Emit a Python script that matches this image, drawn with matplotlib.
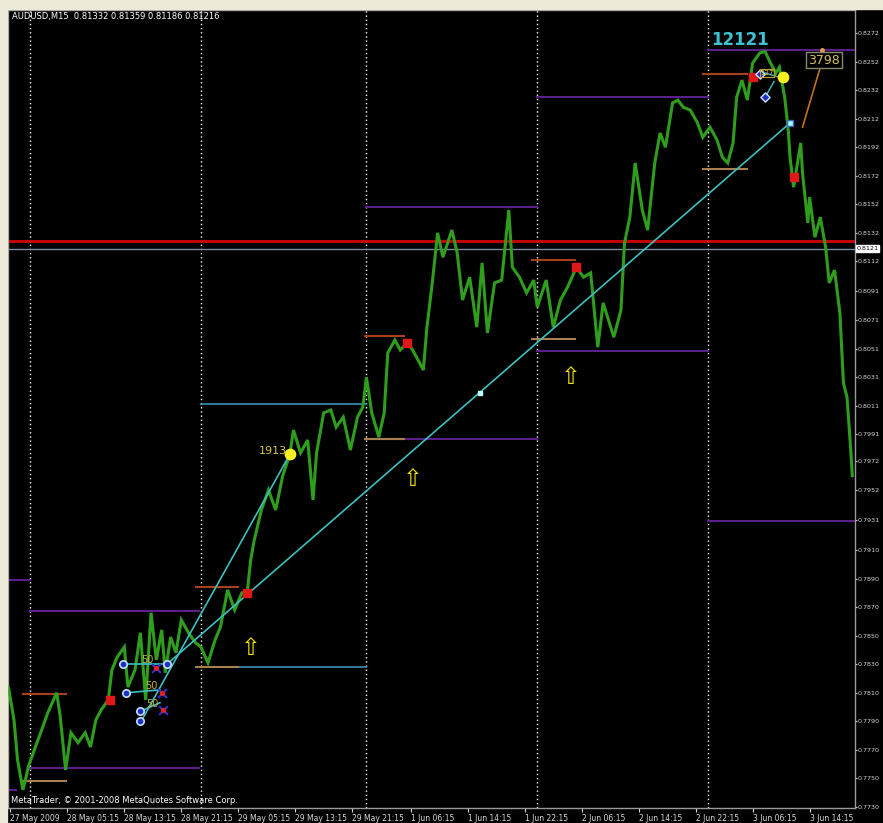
import matplotlib
matplotlib.use("Agg")
import matplotlib.pyplot as plt
from matplotlib.patches import Rectangle

# AUDUSD M15, x = bar number counted from 28 May 2009 00:00
bars = [-12, -9, -7, -4, -2, -1, 3, 6, 10, 15,
        17, 20, 23, 27, 31, 34, 37, 40, 44, 46,
        49, 53, 55, 59, 62, 65, 68, 71, 74, 76,
        79, 82, 85, 89, 93, 96, 100, 104, 107, 111,
        115, 119, 122, 124, 126, 130, 134, 138, 142, 146,
        148, 152, 156, 159, 161, 165, 169, 172, 176, 180,
        184, 187, 189, 192, 196, 199, 201, 205, 208, 212,
        215, 221, 223, 226, 229, 232, 237, 240, 243, 247,
        251, 254, 257, 261, 265, 269, 271, 275, 279, 283,
        285, 290, 294, 298, 302, 307, 311, 315, 317, 319,
        322, 328, 332, 334, 337, 340, 344, 347, 351, 354,
        357, 361, 364, 367, 371, 375, 378, 382, 386, 389,
        392, 395, 397, 400, 403, 406, 410, 413, 416, 419,
        421, 424, 426, 427, 429, 433, 434, 437, 438, 441,
        444, 447, 449, 452, 455, 457, 459, 461, 462]
prices = [0.7813, 0.7791, 0.7763, 0.7742, 0.7752, 0.7758, 0.7772, 0.7782, 0.7796, 0.7810,
          0.7793, 0.7756, 0.7782, 0.7775, 0.7782, 0.7772, 0.7791, 0.7798, 0.7805, 0.7826,
          0.7835, 0.7842, 0.7814, 0.7826, 0.7852, 0.7805, 0.7866, 0.7833, 0.7854, 0.7824,
          0.7849, 0.7838, 0.7861, 0.7852, 0.7845, 0.7842, 0.7831, 0.7847, 0.7856, 0.7882,
          0.7868, 0.7880, 0.7880, 0.7903, 0.7917, 0.7938, 0.7952, 0.7938, 0.7962, 0.7977,
          0.7994, 0.7978, 0.7987, 0.7945, 0.7978, 0.8006, 0.8008, 0.7996, 0.8003, 0.7980,
          0.8003, 0.8010, 0.8031, 0.8006, 0.7989, 0.8006, 0.8048, 0.8057, 0.8050, 0.8055,
          0.8050, 0.8036, 0.8066, 0.8097, 0.8132, 0.8115, 0.8134, 0.8118, 0.8085, 0.8101,
          0.8066, 0.8111, 0.8062, 0.8097, 0.8099, 0.8148, 0.8108, 0.8101, 0.8090, 0.8099,
          0.8080, 0.8099, 0.8066, 0.8085, 0.8094, 0.8108, 0.8101, 0.8104, 0.8078, 0.8052,
          0.8083, 0.8059, 0.8078, 0.8125, 0.8143, 0.8181, 0.8148, 0.8134, 0.8181, 0.8202,
          0.8192, 0.8223, 0.8225, 0.8220, 0.8218, 0.8209, 0.8199, 0.8206, 0.8197, 0.8185,
          0.8181, 0.8195, 0.8227, 0.8239, 0.8225, 0.8251, 0.8258, 0.8259, 0.8251, 0.8244,
          0.8248, 0.8227, 0.8204, 0.8185, 0.8164, 0.8195, 0.8174, 0.8139, 0.8157, 0.8129,
          0.8143, 0.8122, 0.8097, 0.8106, 0.8076, 0.8027, 0.8017, 0.7982, 0.7962]

day_starts = [0, 96, 189, 285, 381]

# (price, first bar, last bar)
range_levels = [(0.7889, -13, 0), (0.7742, -13, -8),
                (0.7867, 0, 95), (0.7757, 0, 95),
                (0.8150, 189, 285), (0.7988, 189, 285),
                (0.8227, 285, 381), (0.8049, 285, 381),
                (0.8260, 381, 466), (0.7930, 381, 466)]
blue_levels = [(0.8012, 96, 189), (0.7828, 117, 189)]
prev_highs = [(0.7809, -4, 20), (0.7884, 93, 117), (0.8060, 188, 210),
              (0.8113, 282, 306), (0.8243, 378, 403)]
prev_lows = [(0.7748, -4, 20), (0.7828, 93, 117), (0.7988, 188, 210),
             (0.8058, 282, 306), (0.8177, 378, 403)]

red_level = 0.8126
bid_level = 0.8121

trend_long = ([76, 427], [0.7829, 0.8209])
trend_mid = (253, 0.8020)
trend_steep = ([62, 146], [0.7789, 0.7977])

red_marks_x = [45, 122, 212, 307, 406, 429]
red_marks_y = [0.7805, 0.7880, 0.8055, 0.8108, 0.8241, 0.8171]
up_arrows_x = [124, 215, 304]
up_arrows_y = [0.7841, 0.7960, 0.8031]
yellow_dots_x = [146, 423]
yellow_dots_y = [0.7977, 0.8241]

fib_rows = [([52, 77], [0.7830, 0.7830]), ([54, 73], [0.7810, 0.7812]),
            ([62, 73], [0.7797, 0.7803])]
fib_circles_x = [52, 77, 54, 62, 62]
fib_circles_y = [0.7830, 0.7830, 0.7810, 0.7797, 0.7790]
fib_text_x = [66, 68, 69]
fib_text_y = [0.7833, 0.7815, 0.7802]
fib_cross_x = [71, 74, 75]
fib_cross_y = [0.7827, 0.7810, 0.7798]

top_diamonds_x = [410, 413]
top_diamonds_y = [0.8243, 0.8227]

time_ticks = [-11, 21, 53, 85, 117, 149, 181, 214, 246, 278, 310, 342, 374, 406, 438]
time_labels = ["27 May 2009", "28 May 05:15", "28 May 13:15", "28 May 21:15",
               "29 May 05:15", "29 May 13:15", "29 May 21:15", "1 Jun 06:15",
               "1 Jun 14:15", "1 Jun 22:15", "2 Jun 06:15", "2 Jun 14:15",
               "2 Jun 22:15", "3 Jun 06:15", "3 Jun 14:15"]
price_ticks = [0.7730, 0.7750, 0.7770, 0.7790, 0.7810, 0.7830, 0.7850, 0.7870,
               0.7890, 0.7910, 0.7931, 0.7952, 0.7972, 0.7991, 0.8011, 0.8031,
               0.8051, 0.8071, 0.8091, 0.8112, 0.8132, 0.8152, 0.8172, 0.8192,
               0.8212, 0.8232, 0.8252, 0.8272]

W, H = 883, 823
fig = plt.figure(figsize=(W / 100, H / 100), dpi=100, facecolor="black")
ax = fig.add_axes([8 / W, 15 / H, 847 / W, 798 / H])
ax.set_facecolor("black")
ax.set_xlim(-12.36, 463.5)
ax.set_ylim(0.77293, 0.82881)

# window frame strips
fig.patches.append(Rectangle((0, 1 - 9 / H), 1, 9 / H, transform=fig.transFigure,
                             color="#ece9d8", zorder=0))
fig.patches.append(Rectangle((0, 0), 7 / W, 1, transform=fig.transFigure,
                             color="#ece9d8", zorder=0))

for d in day_starts:
    ax.axvline(d, color="white", lw=1, ls=(0, (1, 2)), zorder=1)

purple = "#5b1f8c"
for p, a, b in range_levels:
    ax.plot([a, b], [p, p], color=purple, lw=1.5, zorder=2)
for p, a, b in blue_levels:
    ax.plot([a, b], [p, p], color="#3a8fb8", lw=1.2, zorder=2)
for p, a, b in prev_highs:
    ax.plot([a, b], [p, p], color="#a8401c", lw=1.5, zorder=2)
for p, a, b in prev_lows:
    ax.plot([a, b], [p, p], color="#a88050", lw=1.5, zorder=2)

ax.axhline(red_level, color="#d00000", lw=2, zorder=2)
ax.axhline(bid_level, color="#7a8ca0", lw=1, zorder=2)

ax.plot(bars, prices, color="#2e9e1c", lw=2.2, zorder=3, solid_joinstyle="miter")

cyan = "#3cc0c0"
ax.plot(*trend_long, color=cyan, lw=1.2, zorder=4)
ax.plot(*trend_steep, color=cyan, lw=1.2, zorder=4)
ax.plot(*trend_mid, marker="s", ms=3, color="#c0ffff", zorder=5)
ax.plot(trend_long[0][1], trend_long[1][1], marker="s", ms=5, mfc="#a0ffff",
        mec="#4060c0", zorder=5)

for xs, ys in fib_rows:
    ax.plot(xs, ys, color=cyan, lw=1.2, zorder=4)
ax.scatter(fib_circles_x, fib_circles_y, s=28, c="#2030c0", edgecolors="#c0e0ff",
           linewidths=1.2, zorder=5)
for x, y in zip(fib_text_x, fib_text_y):
    ax.text(x, y, "50", color="#c8b040", fontsize=7, ha="center", va="center", zorder=5)
ax.scatter(fib_cross_x, fib_cross_y, s=40, marker="x", c="#3030e0", linewidths=1.5, zorder=5)
ax.scatter(fib_cross_x, fib_cross_y, s=8, c="#e02020", zorder=6)

ax.scatter(red_marks_x, red_marks_y, s=30, marker="s", c="#e01818", zorder=6)
for x, y in zip(up_arrows_x, up_arrows_y):
    ax.text(x, y, "\u21e7", color="#f0e000", fontsize=17, ha="center", va="center", zorder=6)
ax.scatter(yellow_dots_x, yellow_dots_y, s=55, c="#f8f020", zorder=6)
ax.text(yellow_dots_x[0] - 1.5, yellow_dots_y[0] + 0.0002, "1913", color="#d8c848",
        fontsize=8, ha="right", va="center", zorder=6)

ax.plot(top_diamonds_x + [421], top_diamonds_y[:1] + [0.8244, 0.8241], color=cyan, lw=1, zorder=5)
ax.plot([413, 418], [0.8227, 0.8238], color=cyan, lw=1, zorder=5)
ax.scatter(top_diamonds_x, top_diamonds_y, s=22, marker="D", c="#2030c0",
           edgecolors="#d0e0ff", linewidths=1, zorder=6)
ax.text(414, 0.8244, "127", color="#d8c848", fontsize=5, ha="center", va="center",
        bbox=dict(boxstyle="square,pad=0.1", fc="none", ec="#c0a020", lw=0.8), zorder=6)

ax.text(399, 0.8267, "12121", color="#3cc4d4", fontsize=12, fontweight="bold",
        ha="center", va="center", zorder=6)
ax.plot([434, 444], [0.8206, 0.8248], color="#c07020", lw=1.2, zorder=5)
ax.plot(445, 0.8260, marker="o", ms=2.5, color="#e0a040", zorder=6)
ax.text(446, 0.8253, "3798", color="#d8c060", fontsize=9, ha="center", va="center",
        bbox=dict(boxstyle="square,pad=0.15", fc="black", ec="#8a8a70", lw=1), zorder=6)

ax.text(0.005, 0.992, "AUDUSD,M15  0.81332 0.81359 0.81186 0.81216", transform=ax.transAxes,
        color="white", fontsize=6, ha="left", va="center")
ax.text(0.003, 0.004, "MetaTrader, \u00a9 2001-2008 MetaQuotes Software Corp.",
        transform=ax.transAxes, color="white", fontsize=6, ha="left", va="bottom")

for s in ax.spines.values():
    s.set_color("#9a9a9a")
    s.set_linewidth(1)

ax.yaxis.tick_right()
ax.set_yticks(price_ticks)
ax.set_yticklabels(["%.4f" % v for v in price_ticks])
ax.tick_params(axis="y", colors="#d8d8d8", labelsize=4.6, length=1.5, pad=0.5)
ax.set_xticks(time_ticks)
ax.set_xticklabels(time_labels, ha="left")
ax.tick_params(axis="x", colors="#d8d8d8", labelsize=5.5, length=3, pad=1.5)

ax.text(1.002, bid_level, "0.8121", transform=ax.get_yaxis_transform(), color="black",
        fontsize=4.6, ha="left", va="center",
        bbox=dict(boxstyle="square,pad=0.1", fc="white", ec="white"), clip_on=False, zorder=7)

fig.savefig("out.png", dpi=100, facecolor=fig.get_facecolor())
